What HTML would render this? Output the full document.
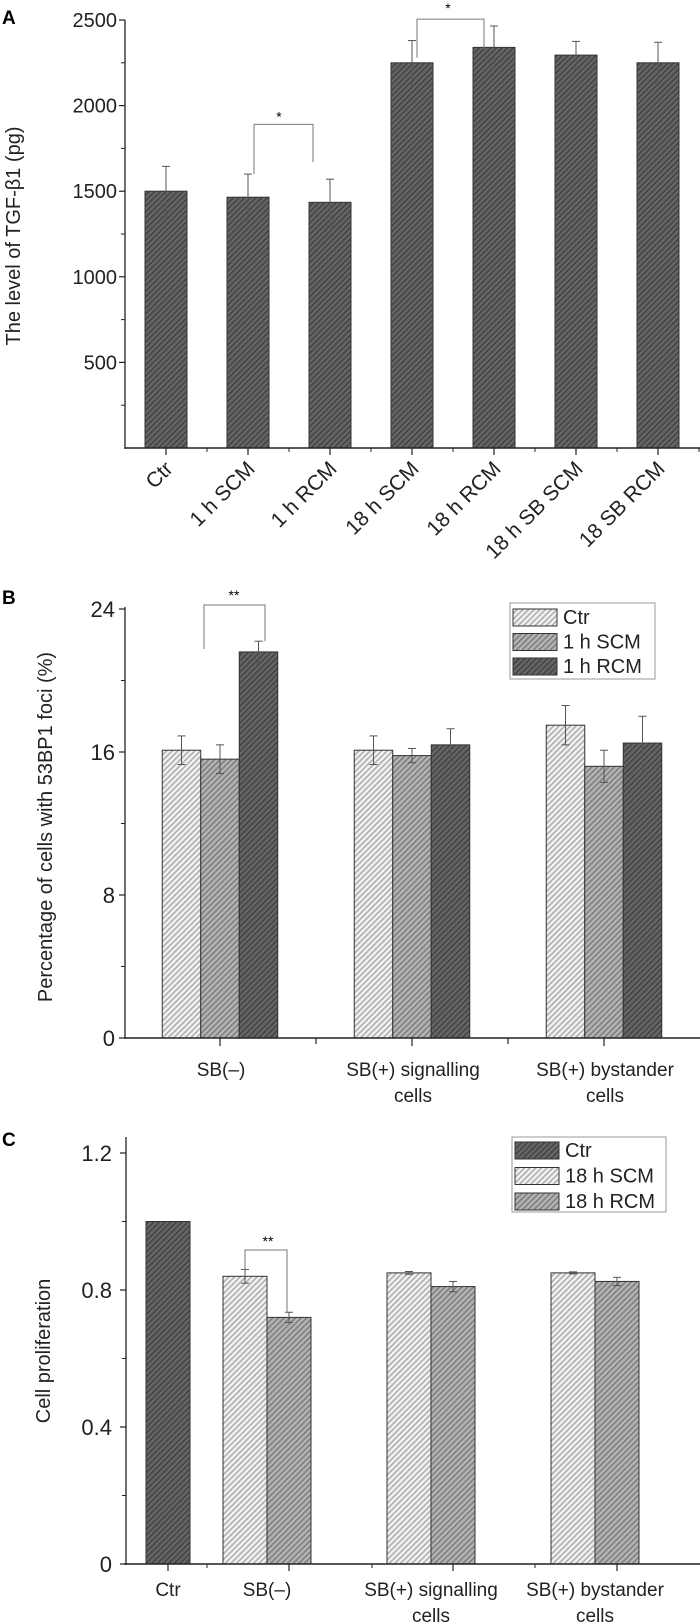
<!DOCTYPE html>
<html><head><meta charset="utf-8"><style>
html,body{margin:0;padding:0;background:#fff;}
svg{display:block;font-family:"Liberation Sans",sans-serif;}
</style></head><body>
<svg id="fig" width="700" height="1624" viewBox="0 0 700 1624" xmlns="http://www.w3.org/2000/svg">
<defs>
<pattern id="hDark" patternUnits="userSpaceOnUse" width="4" height="4" patternTransform="rotate(45)"><rect width="4" height="4" fill="#666"/><rect width="1.6" height="4" fill="#444"/></pattern>
<pattern id="hMed" patternUnits="userSpaceOnUse" width="4" height="4" patternTransform="rotate(45)"><rect width="4" height="4" fill="#b4b4b4"/><rect width="1.6" height="4" fill="#7e7e7e"/></pattern>
<pattern id="hLight" patternUnits="userSpaceOnUse" width="4" height="4" patternTransform="rotate(45)"><rect width="4" height="4" fill="#f0f0f0"/><rect width="1.4" height="4" fill="#a8a8a8"/></pattern>
</defs>
</svg>
<script>
// ---- Panel A data ----
const aCats = ["Ctr","1 h SCM","1 h RCM","18 h SCM","18 h RCM","18 h SB SCM","18 SB RCM"];
const aVals = [1500,1465,1435,2250,2340,2295,2250];
const aErrs = [145,135,135,130,125,80,120];
const aTicks = [500,1000,1500,2000,2500];
// ---- Panel B data ----
const bGroups = ["SB(–)|", "SB(+) signalling|cells", "SB(+) bystander|cells"];
const bSeries = ["Ctr","1 h SCM","1 h RCM"];
const bCtr = [16.1,16.1,17.5];
const bSCM = [15.6,15.8,15.2];
const bRCM = [21.6,16.4,16.5];
const bCtrErr = [0.8,0.8,1.1];
const bSCMErr = [0.8,0.4,0.9];
const bRCMErr = [0.6,0.9,1.5];
const bTicks = [0,8,16,24];
// ---- Panel C data ----
const cGroups = ["Ctr|","SB(–)|","SB(+) signalling|cells","SB(+) bystander|cells"];
const cSeries = ["Ctr","18 h SCM","18 h RCM"];
const cCtr = [1.0];
const cSCM = [0.84,0.85,0.85];
const cRCM = [0.72,0.81,0.825];
const cSCMErr = [0.02,0.004,0.003];
const cRCMErr = [0.015,0.015,0.012];
const cTicks = ["0","0.4","0.8","1.2"];

const svg=document.getElementById('fig');
const NS='http://www.w3.org/2000/svg';
function mk(tag,attrs,parent){const e=document.createElementNS(NS,tag);for(const k in attrs)e.setAttribute(k,attrs[k]);(parent||svg).appendChild(e);return e;}
function txt(s,attrs,parent){const e=mk('text',attrs,parent);e.textContent=s;return e;}
function errbar(g,x,y1,y2){
  mk('line',{x1:x,x2:x,y1:y1,y2:y2,stroke:'#555','stroke-width':1},g);
  mk('line',{x1:x-4,x2:x+4,y1:y1,y2:y1,stroke:'#555','stroke-width':1},g);
  mk('line',{x1:x-4,x2:x+4,y1:y2,y2:y2,stroke:'#555','stroke-width':1},g);
}

// ================= Panel A =================
(function(){
  const g=mk('g',{});
  
  
  const X0=125,X1=700,Y0=448,Ytop=20;
  const y=v=>Y0-(v/2500)*(Y0-Ytop);
  const cx=i=>166+i*82;
  const L=txt('A',{x:2,y:24,'font-size':19,'font-weight':'bold'},g);
  
  
  aVals.forEach((v,i)=>{
    const r=mk('rect',{x:cx(i)-21,y:y(v),width:42,height:Y0-y(v),fill:'url(#hDark)',stroke:'#333','stroke-width':1},g);
    
    
    errbar(g,cx(i),y(v+aErrs[i]),y(v-aErrs[i]));
  });
  const ya=mk('line',{x1:X0,x2:X0,y1:Ytop,y2:Y0+1,stroke:'#222','stroke-width':1.3},g);
  
  
  const xa=mk('line',{x1:X0,x2:X1,y1:Y0,y2:Y0,stroke:'#222','stroke-width':1.5},g);
  
  
  aTicks.forEach(t=>{
    mk('line',{x1:X0-6,x2:X0,y1:y(t),y2:y(t),stroke:'#222','stroke-width':1.2},g);
    const tl=txt(String(t),{x:X0-8,y:y(t)+7,'font-size':20,'text-anchor':'end',fill:'#222'},g);
    
    
  });
  [250,750,1250,1750,2250].forEach(t=>mk('line',{x1:X0-4,x2:X0,y1:y(t),y2:y(t),stroke:'#222','stroke-width':1},g));
  aCats.forEach((c,i)=>{
    mk('line',{x1:cx(i),x2:cx(i),y1:Y0,y2:Y0+7,stroke:'#222','stroke-width':1.2},g);
    mk('line',{x1:cx(i)+41,x2:cx(i)+41,y1:Y0,y2:Y0+4,stroke:'#222','stroke-width':1},g);
    const tl=txt(c,{x:cx(i)+8,y:Y0+22,'font-size':21,'text-anchor':'end',fill:'#222',transform:`rotate(-45 ${cx(i)+8} ${Y0+22})`},g);
    
    
  });
  const yt=txt('The level of TGF-β1 (pg)',{x:0,y:0,'font-size':20,'text-anchor':'middle',fill:'#222',transform:'translate(20 236) rotate(-90)'},g);
  
  
  const b1=mk('path',{d:`M${cx(1)+6} ${y(aVals[1]+aErrs[1])} V${y(1890)} H${cx(2)-17} V${y(1670)}`,fill:'none',stroke:'#777','stroke-width':1},g);
  
  
  txt('*',{x:(cx(1)+cx(2))/2-10,y:y(1890)-3,'font-size':14,'text-anchor':'middle'},g);
  const b2=mk('path',{d:`M${cx(3)+5} ${y(2280)} V${y(2505)} H${cx(4)-10} V${y(2330)}`,fill:'none',stroke:'#777','stroke-width':1},g);
  
  
  txt('*',{x:(cx(3)+cx(4))/2-5,y:13,'font-size':14,'text-anchor':'middle'},g);
})();

// ================= Panel B =================
(function(){
  const g=mk('g',{});
  
  
  const X0=125,X1=700,Y0=1038,Ytop=609;
  const y=v=>Y0-(v/24)*(Y0-Ytop);
  const gc=i=>220+i*192;
  const W=38.5;
  const L=txt('B',{x:2,y:604,'font-size':19,'font-weight':'bold'},g);
  
  
  const series=[[bCtr,bCtrErr,'url(#hLight)'],[bSCM,bSCMErr,'url(#hMed)'],[bRCM,bRCMErr,'url(#hDark)']];
  series.forEach((s,si)=>{
    s[0].forEach((v,i)=>{
      const x=gc(i)-1.5*W+si*W;
      const r=mk('rect',{x:x,y:y(v),width:W,height:Y0-y(v),fill:s[2],stroke:'#333','stroke-width':1},g);
      
      
      errbar(g,x+W/2,y(v+s[1][i]),y(v-s[1][i]));
    });
  });
  const ya=mk('line',{x1:X0,x2:X0,y1:Ytop-2,y2:Y0+1,stroke:'#222','stroke-width':1.3},g);
  
  
  const xa=mk('line',{x1:X0,x2:X1,y1:Y0,y2:Y0,stroke:'#222','stroke-width':1.5},g);
  
  
  bTicks.forEach(t=>{
    mk('line',{x1:X0-6,x2:X0,y1:y(t),y2:y(t),stroke:'#222','stroke-width':1.2},g);
    const tl=txt(String(t),{x:X0-10,y:y(t)+8,'font-size':22,'text-anchor':'end',fill:'#222'},g);
    
    
  });
  [4,12,20].forEach(t=>mk('line',{x1:X0-4,x2:X0,y1:y(t),y2:y(t),stroke:'#222','stroke-width':1},g));
  bGroups.forEach((s,i)=>{
    mk('line',{x1:gc(i),x2:gc(i),y1:Y0,y2:Y0+8,stroke:'#222','stroke-width':1.2},g);
    if(i<2) mk('line',{x1:gc(i)+96,x2:gc(i)+96,y1:Y0,y2:Y0+6,stroke:'#222','stroke-width':1.2},g);
    const p=s.split('|');
    const tl=txt(p[0],{x:gc(i)+1,y:1076,'font-size':19,'text-anchor':'middle',fill:'#222'},g);
    
    
    if(p[1]) txt(p[1],{x:gc(i)+1,y:1102,'font-size':19,'text-anchor':'middle',fill:'#222'},g);
  });
  const yt=txt('Percentage of cells with 53BP1 foci (%)',{x:0,y:0,'font-size':20,'text-anchor':'middle',fill:'#222',transform:'translate(52 827) rotate(-90)'},g);
  
  
  const br=mk('path',{d:`M204 649 V605 H265 V${y(bRCM[0]+bRCMErr[0])}`,fill:'none',stroke:'#777','stroke-width':1},g);
  
  
  txt('**',{x:234,y:600,'font-size':14,'text-anchor':'middle'},g);
  const lg=mk('g',{},g);
  
  
  mk('rect',{x:510,y:603,width:145,height:76,fill:'#fff',stroke:'#999','stroke-width':1},lg);
  const fills=['url(#hLight)','url(#hMed)','url(#hDark)'];
  bSeries.forEach((s,i)=>{
    const e=mk('g',{},lg);
    
    
    mk('rect',{x:513,y:609+i*24.5,width:44,height:17,fill:fills[i],stroke:'#333','stroke-width':1},e);
    txt(s,{x:563,y:624+i*24.5,'font-size':20,fill:'#222'},e);
  });
})();

// ================= Panel C =================
(function(){
  const g=mk('g',{});
  
  
  const X0=126,X1=700,Y0=1564,Ytop=1137;
  const y=v=>Y0-(v/0.4)*137;
  const lc=[168,267,431,595];
  const W=44;
  const L=txt('C',{x:2,y:1146,'font-size':19,'font-weight':'bold'},g);
  
  
  cCtr.forEach((v,i)=>{
    const r=mk('rect',{x:lc[0]-22,y:y(v),width:W,height:Y0-y(v),fill:'url(#hDark)',stroke:'#333','stroke-width':1},g);
    
    
  });
  cSCM.forEach((v,i)=>{
    const c=lc[i+1];
    const r=mk('rect',{x:c-W,y:y(v),width:W,height:Y0-y(v),fill:'url(#hLight)',stroke:'#333','stroke-width':1},g);
    
    
    errbar(g,c-W/2,y(v+cSCMErr[i]),y(v-cSCMErr[i]));
    const v2=cRCM[i];
    const r2=mk('rect',{x:c,y:y(v2),width:W,height:Y0-y(v2),fill:'url(#hMed)',stroke:'#333','stroke-width':1},g);
    
    
    errbar(g,c+W/2,y(v2+cRCMErr[i]),y(v2-cRCMErr[i]));
  });
  const ya=mk('line',{x1:X0,x2:X0,y1:Ytop,y2:Y0+1,stroke:'#222','stroke-width':1.3},g);
  
  
  const xa=mk('line',{x1:X0-2,x2:X1,y1:Y0,y2:Y0,stroke:'#222','stroke-width':1.5},g);
  
  
  cTicks.forEach(t=>{
    const v=parseFloat(t);
    mk('line',{x1:X0-6,x2:X0,y1:y(v),y2:y(v),stroke:'#222','stroke-width':1.2},g);
    const tl=txt(t,{x:X0-14,y:y(v)+8,'font-size':22,'text-anchor':'end',fill:'#222'},g);
    
    
  });
  [0.2,0.6,1.0].forEach(v=>mk('line',{x1:X0-4,x2:X0,y1:y(v),y2:y(v),stroke:'#222','stroke-width':1},g));
  [168,289,453,617].forEach(x=>mk('line',{x1:x,x2:x,y1:Y0,y2:Y0+7,stroke:'#222','stroke-width':1.2},g));
  [207,372,535].forEach(x=>mk('line',{x1:x,x2:x,y1:Y0,y2:Y0+4,stroke:'#222','stroke-width':1},g));
  cGroups.forEach((s,i)=>{
    const p=s.split('|');
    const tl=txt(p[0],{x:lc[i],y:1596,'font-size':19,'text-anchor':'middle',fill:'#222'},g);
    
    
    if(p[1]) txt(p[1],{x:lc[i],y:1622,'font-size':19,'text-anchor':'middle',fill:'#222'},g);
  });
  const yt=txt('Cell proliferation',{x:0,y:0,'font-size':20,'text-anchor':'middle',fill:'#222',transform:'translate(50 1351) rotate(-90)'},g);
  
  
  const br=mk('path',{d:`M245 ${y(cSCM[0]+cSCMErr[0])} V1250 H287 V${y(cRCM[0]+cRCMErr[0])}`,fill:'none',stroke:'#777','stroke-width':1},g);
  
  
  txt('**',{x:268,y:1246,'font-size':14,'text-anchor':'middle'},g);
  const lg=mk('g',{},g);
  
  
  mk('rect',{x:512,y:1137,width:154,height:75,fill:'#fff',stroke:'#999','stroke-width':1},lg);
  const fills=['url(#hDark)','url(#hLight)','url(#hMed)'];
  cSeries.forEach((s,i)=>{
    const e=mk('g',{},lg);
    
    
    mk('rect',{x:515,y:1142+i*25.5,width:44,height:17,fill:fills[i],stroke:'#333','stroke-width':1},e);
    txt(s,{x:565,y:1157+i*25.5,'font-size':20,fill:'#222'},e);
  });
})();
</script>
</body></html>
